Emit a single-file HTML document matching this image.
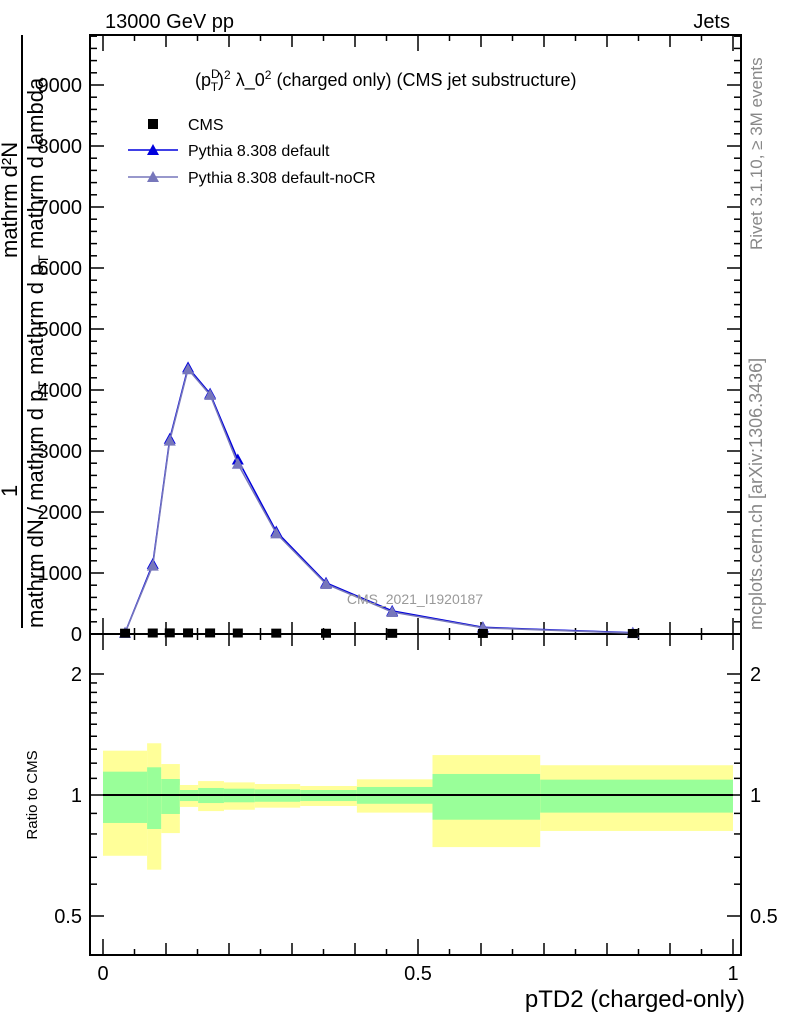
<!DOCTYPE html>
<html><head><meta charset="utf-8"><style>
body{margin:0;background:#fff;}
svg{display:block;font-family:"Liberation Sans",sans-serif;}
</style></head><body>
<svg id="c" width="786" height="1024" viewBox="0 0 786 1024">
<g id="g"></g>
</svg>
<script>
const xCenters=[0.035,0.079,0.106,0.135,0.170,0.214,0.275,0.354,0.459,0.603,0.841];
const cmsVals=[5,8,10,10,9,8,6,4,3,1,0.5];
const pyDefault=[20,1150,3200,4370,3940,2860,1680,840,380,110,20];
const pyNoCR=[20,1120,3170,4340,3920,2790,1650,820,360,100,15];
const binEdges=[0,0.07,0.0925,0.122,0.151,0.192,0.241,0.313,0.403,0.523,0.694,1.0];
const yelHi=[1.289,1.345,1.194,1.059,1.083,1.075,1.065,1.053,1.094,1.257,1.186];
const grnHi=[1.143,1.172,1.096,1.029,1.041,1.037,1.033,1.029,1.047,1.128,1.092];
const grnLo=[0.852,0.823,0.897,0.966,0.955,0.959,0.962,0.966,0.951,0.868,0.904];
const yelLo=[0.706,0.652,0.804,0.934,0.912,0.919,0.930,0.939,0.904,0.742,0.814];
const yTicks=[0,1000,2000,3000,4000,5000,6000,7000,8000,9000];
const xTicks=[0,0.5,1];
const rTicks=[0.5,1,2];

const L=90,R=741,T=35,B=634,RB=955;
const X=v=>103+v*630;
const Y=v=>634-v*0.061;
const RY=v=>795-Math.log2(v)*121;
const g=document.getElementById('g');
const NS='http://www.w3.org/2000/svg';
function mk(t,a,p){const e=document.createElementNS(NS,t);for(const k in a)e.setAttribute(k,a[k]);(p||g).appendChild(e);return e;}

for(let i=0;i<yelHi.length;i++){
  const x0=X(binEdges[i]),x1=X(binEdges[i+1]);
  const y=mk('rect',{x:x0,y:RY(yelHi[i]),width:x1-x0,height:RY(yelLo[i])-RY(yelHi[i]),fill:'#ffff99'});
  
  
  const gr=mk('rect',{x:x0,y:RY(grnHi[i]),width:x1-x0,height:RY(grnLo[i])-RY(grnHi[i]),fill:'#99ff99'});
  
  
}
const ul=mk('line',{x1:X(0),x2:X(1),y1:RY(1),y2:RY(1),stroke:'#000','stroke-width':2});



const f1=mk('rect',{x:L,y:T,width:R-L,height:B-T,fill:'none',stroke:'#000','stroke-width':2});


const f2=mk('rect',{x:L,y:B,width:R-L,height:RB-B,fill:'none',stroke:'#000','stroke-width':2});



for(let v=0;v<=9800;v+=200){
  const y=Y(v);if(y<T)break;
  const len=v%1000===0?14:7;
  mk('line',{x1:L,x2:L+len,y1:y,y2:y,stroke:'#000','stroke-width':1.5});
  mk('line',{x1:R,x2:R-len,y1:y,y2:y,stroke:'#000','stroke-width':1.5});
}
yTicks.forEach(v=>{
  const t=mk('text',{x:82,y:Y(v)+7,'text-anchor':'end','font-size':20});
  t.textContent=v;
  
  
});
for(let k=0;k<=20;k++){
  const v=k*0.05,x=X(v);
  const len=k%10===0?16:(k%2===0?12:6);
  mk('line',{x1:x,x2:x,y1:B,y2:B-len,stroke:'#000','stroke-width':1.5});
  mk('line',{x1:x,x2:x,y1:T,y2:T+len,stroke:'#000','stroke-width':1.5});
  mk('line',{x1:x,x2:x,y1:RB,y2:RB-len,stroke:'#000','stroke-width':1.5});
  mk('line',{x1:x,x2:x,y1:B,y2:B+len,stroke:'#000','stroke-width':1.5});
}
xTicks.forEach(v=>{
  const t=mk('text',{x:X(v),y:980,'text-anchor':'middle','font-size':20});
  t.textContent=v;
  
  
});
[0.5,0.6,0.7,0.8,0.9,1,1.1,1.2,1.3,1.4,1.5,1.6,1.7,1.8,1.9,2].forEach(v=>{
  const y=RY(v),len=(v===0.5||v===1||v===2)?14:7;
  mk('line',{x1:L,x2:L+len,y1:y,y2:y,stroke:'#000','stroke-width':1.5});
  mk('line',{x1:R,x2:R-len,y1:y,y2:y,stroke:'#000','stroke-width':1.5});
});
rTicks.forEach(v=>{
  const t=mk('text',{x:82,y:RY(v)+7,'text-anchor':'end','font-size':20});
  t.textContent=v;
  
  
  const t2=mk('text',{x:750,y:RY(v)+7,'text-anchor':'start','font-size':20});
  t2.textContent=v;
  
  
});

function tri(x,y,c){return mk('polygon',{points:`${x},${y-6} ${x-6},${y+5} ${x+6},${y+5}`,fill:c});}
function series(vals,color,name){
  const pl=mk('polyline',{points:vals.map((v,i)=>X(xCenters[i])+','+Y(v)).join(' '),fill:'none',stroke:color,'stroke-width':1.5});
  
  
  vals.forEach((v,i)=>{const p=tri(X(xCenters[i]),Y(v),color);
    
    });
}
series(pyDefault,'#0000dd','pythia-default');
series(pyNoCR,'#7777bb','pythia-nocr');
cmsVals.forEach((v,i)=>{
  const r=mk('rect',{x:X(xCenters[i])-5,y:Y(v)-5,width:10,height:9,fill:'#000'});
  
  
});
</script>
<svg width="786" height="1024" style="position:absolute;left:0;top:0">
<g font-family="Liberation Sans, sans-serif">
<text x="105" y="28" font-size="20">13000 GeV pp</text>
<text x="730" y="28" font-size="20" text-anchor="end">Jets</text>
<text x="195" y="86" font-size="18">(p<tspan font-size="12" dy="-8">D</tspan><tspan font-size="12" dy="13" dx="-9">T</tspan><tspan dy="-5">)</tspan><tspan font-size="12" dy="-7">2</tspan><tspan dy="7"> λ_0</tspan><tspan font-size="12" dy="-7">2</tspan><tspan dy="7"> (charged only) (CMS jet substructure)</tspan></text>
<rect x="148" y="119" width="10" height="10" fill="#000"/>
<text x="188" y="130" font-size="16">CMS</text>
<line x1="128" x2="178" y1="150" y2="150" stroke="#0000dd" stroke-width="1.5"/>
<polygon points="153,144 147,155 159,155" fill="#0000dd"/>
<text x="188" y="156" font-size="16">Pythia 8.308 default</text>
<line x1="128" x2="178" y1="177" y2="177" stroke="#7777bb" stroke-width="1.5"/>
<polygon points="153,171 147,182 159,182" fill="#7777bb"/>
<text x="188" y="183" font-size="16">Pythia 8.308 default-noCR</text>
<text x="415" y="604" font-size="14" fill="#999" text-anchor="middle">CMS_2021_I1920187</text>
<text transform="translate(762,250) rotate(-90)" font-size="17" fill="#888">Rivet 3.1.10, ≥ 3M events</text>
<text transform="translate(762,630) rotate(-90)" font-size="18" fill="#888">mcplots.cern.ch [arXiv:1306.3436]</text>
<line x1="22" x2="22" y1="35" y2="628" stroke="#000" stroke-width="2"/>
<text transform="translate(17,258) rotate(-90)" font-size="22">mathrm d²N</text>
<text transform="translate(17,497) rotate(-90)" font-size="22">1</text>
<text transform="translate(43,628) rotate(-90)" font-size="22">mathrm dN / mathrm d p<tspan font-size="14" dy="5">T</tspan><tspan dy="-5"> mathrm d p</tspan><tspan font-size="14" dy="5">T</tspan><tspan dy="-5"> mathrm d lambda</tspan></text>
<text transform="translate(37,795) rotate(-90)" font-size="15" text-anchor="middle">Ratio to CMS</text>
<text x="745" y="1007" font-size="24" text-anchor="end">pTD2 (charged-only)</text>
</g></svg>
</body></html>
